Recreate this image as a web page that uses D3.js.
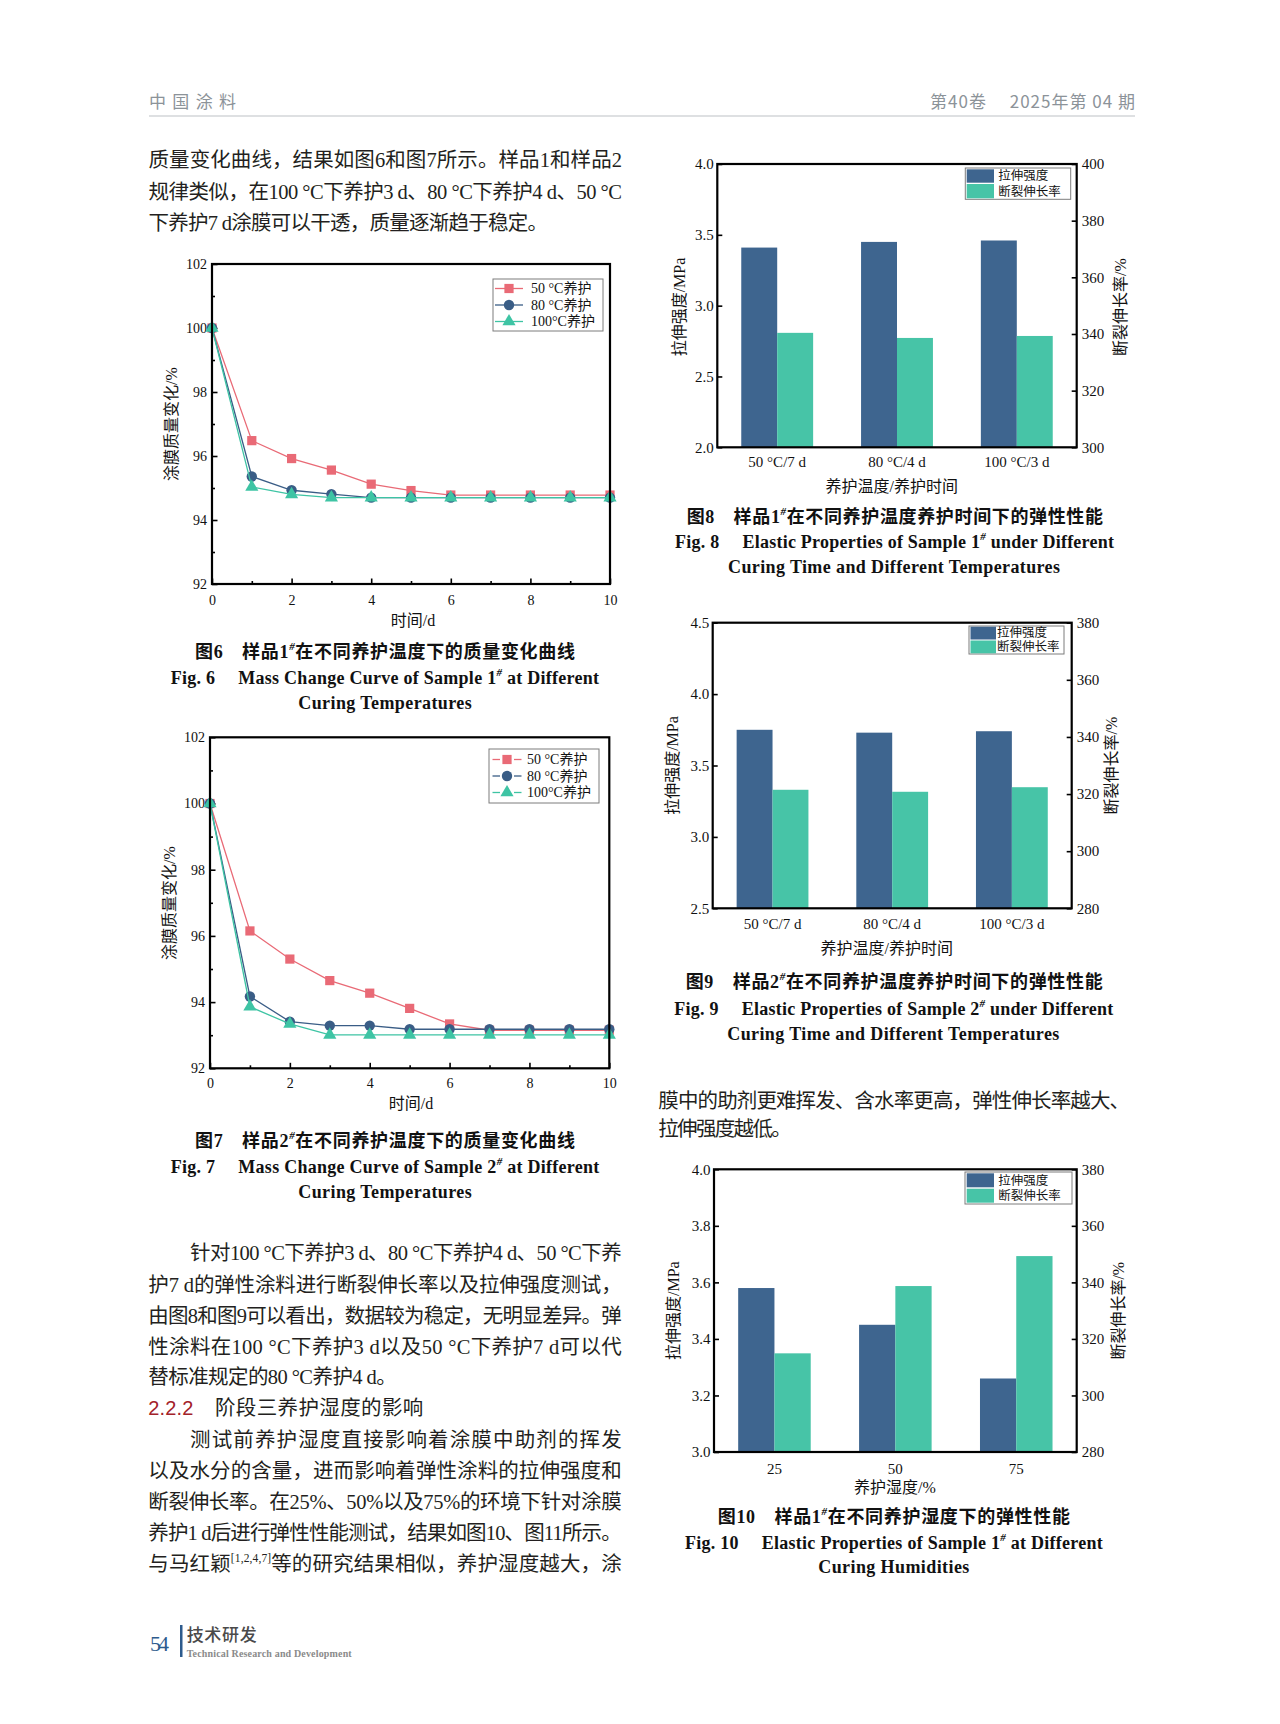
<!DOCTYPE html>
<html><head><meta charset="utf-8">
<script src="https://cdn.jsdelivr.net/npm/d3@7"></script>
<style>body{margin:0;background:#fff}svg{display:block}</style>
</head><body>
<script>
// ---------------- data ----------------
const days = [0,1,2,3,4,5,6,7,8,9,10];
const lineSeriesNames = ["50 °C养护","80 °C养护","100°C养护"];
const fig6Mass50  = [100, 96.48, 95.92, 95.56, 95.12, 94.92, 94.78, 94.78, 94.78, 94.78, 94.78];
const fig6Mass80  = [100, 95.36, 94.93, 94.81, 94.70, 94.70, 94.70, 94.70, 94.70, 94.70, 94.70];
const fig6Mass100 = [100, 95.03, 94.80, 94.70, 94.70, 94.70, 94.70, 94.70, 94.70, 94.70, 94.70];
const fig7Mass50  = [100, 96.15, 95.30, 94.65, 94.27, 93.81, 93.34, 93.15, 93.15, 93.15, 93.15];
const fig7Mass80  = [100, 94.17, 93.41, 93.29, 93.29, 93.18, 93.18, 93.18, 93.18, 93.18, 93.18];
const fig7Mass100 = [100, 93.86, 93.34, 93.01, 93.01, 93.01, 93.01, 93.01, 93.01, 93.01, 93.01];
const lineXTicks = [0,2,4,6,8,10];
const lineXMinor = [1,3,5,7,9];
const lineYTicks = [92,94,96,98,100,102];
const lineYMinor = [93,95,97,99,101];

const barSeriesNames = ["拉伸强度","断裂伸长率"];
const tempCats = ["50 °C/7 d","80 °C/4 d","100 °C/3 d"];
const fig8Tensile = [3.41, 3.45, 3.46];
const fig8Elong   = [340.4, 338.6, 339.3];
const fig9Tensile = [3.75, 3.73, 3.74];
const fig9Elong   = [321.5, 320.8, 322.4];
const humCats = ["25","50","75"];
const fig10Tensile = [3.58, 3.45, 3.26];
const fig10Elong   = [314.9, 338.7, 349.3];
const fig8LeftTicks  = [2.0,2.5,3.0,3.5,4.0];
const fig8RightTicks = [300,320,340,360,380,400];
const fig9LeftTicks  = [2.5,3.0,3.5,4.0,4.5];
const fig9RightTicks = [280,300,320,340,360,380];
const fig10LeftTicks  = [3.0,3.2,3.4,3.6,3.8,4.0];
const fig10RightTicks = [280,300,320,340,360,380];

// ---------------- styles ----------------
const SERIF = "'Liberation Serif','Noto Sans CJK SC',serif";
const SANS = "'Noto Sans CJK SC','Liberation Sans',sans-serif";
const INK = "#231f20";
const C_RED = "#e96a76", C_NAVY = "#3a5d86", C_TEAL = "#3ec4a4";
const B_BLUE = "#3e658f", B_GREEN = "#47c4a7";

const svg = d3.select("body").append("svg").attr("width",1280).attr("height",1724);
svg.append("rect").attr("width",1280).attr("height",1724).attr("fill","#fff");

function addText(p, x, y, segs, o = {}) {
  const size = o.size || 16;
  const g = p.append("g").attr("transform", `translate(${x},${y})` + (o.rotate ? ` rotate(${o.rotate})` : ""));
  const t = g.append("text").attr("x",0).attr("y", size*0.35)
    .attr("font-family", o.family || SERIF).attr("font-size", size)
    .attr("font-weight", o.weight || "normal").attr("fill", o.fill || INK)
    .attr("text-anchor", o.anchor || "start");
  if (o.spacing) t.attr("letter-spacing", o.spacing);
  if (o.len) t.attr("textLength", o.len).attr("lengthAdjust","spacing");
  if (typeof segs === "string") segs = [segs];
  let up = 0;
  segs.forEach(s => {
    if (typeof s === "string") {
      const ts = t.append("tspan").text(s);
      if (up) { ts.attr("dy", up); up = 0; }
    } else {
      const ss = s.size || size*0.6;
      const sh = size*0.42;
      t.append("tspan").text(s.sup).attr("font-size", ss).attr("dy", -sh).attr("font-style", s.italic ? "italic" : null);
      up = sh;
    }
  });
  return t;
}

function styleAxis(a, fs) {
  a.select(".domain").remove();
  a.selectAll("line").attr("stroke","#000").attr("stroke-width",1.6);
  a.selectAll("text").attr("font-family",SERIF).attr("font-size",fs).attr("fill","#111");
  return a;
}

// ---------------- line charts ----------------
function lineChart(o) {
  const g = svg.append("g");
  const x = d3.scaleLinear().domain([0,10]).range([o.l,o.r]);
  const y = d3.scaleLinear().domain([92,102]).range([o.b,o.t]);
  styleAxis(g.append("g").attr("transform",`translate(0,${o.b})`)
    .call(d3.axisBottom(x).tickValues(lineXMinor).tickSize(-3).tickFormat("")), 14);
  styleAxis(g.append("g").attr("transform",`translate(0,${o.b})`)
    .call(d3.axisBottom(x).tickValues(lineXTicks).tickSize(-5.5).tickPadding(o.xpad).tickFormat(d3.format("d"))), 14);
  styleAxis(g.append("g").attr("transform",`translate(${o.l},0)`)
    .call(d3.axisLeft(y).tickValues(lineYMinor).tickSize(-3).tickFormat("")), 14);
  styleAxis(g.append("g").attr("transform",`translate(${o.l},0)`)
    .call(d3.axisLeft(y).tickValues(lineYTicks).tickSize(-5.5).tickPadding(5).tickFormat(d3.format("d"))), 14);

  const line = d3.line().x((d,i)=>x(days[i])).y(d=>y(d));
  o.series.forEach(s => {
    g.append("path").attr("d", line(s.values)).attr("fill","none").attr("stroke", s.color).attr("stroke-width",1.3);
    g.selectAll(null).data(s.values).join("path")
      .attr("transform",(d,i)=>`translate(${x(days[i])},${y(d)})`)
      .attr("d", d3.symbol(s.symbol, s.size)).attr("fill", s.color);
  });
  g.append("rect").attr("x",o.l).attr("y",o.t).attr("width",o.r-o.l).attr("height",o.b-o.t)
    .attr("fill","none").attr("stroke","#000").attr("stroke-width",2.2);

  // legend
  const L = o.legend;
  g.append("rect").attr("x",L.x).attr("y",L.y).attr("width",L.w).attr("height",L.h)
    .attr("fill","#fff").attr("stroke","#7d7d7d").attr("stroke-width",1);
  o.series.forEach((s,i) => {
    const cy = L.rows[i];
    if (L.dashed) {
      g.append("line").attr("x1",L.lx0).attr("x2",L.mx-7).attr("y1",cy).attr("y2",cy).attr("stroke",s.color).attr("stroke-width",1.3);
      g.append("line").attr("x1",L.mx+7).attr("x2",L.lx1).attr("y1",cy).attr("y2",cy).attr("stroke",s.color).attr("stroke-width",1.3);
    } else {
      g.append("line").attr("x1",L.lx0).attr("x2",L.lx1).attr("y1",cy).attr("y2",cy).attr("stroke",s.color).attr("stroke-width",1.3);
    }
    g.append("path").attr("transform",`translate(${L.mx},${cy})`).attr("d", d3.symbol(s.symbol, s.size)).attr("fill", s.color);
    addText(g, L.tx, cy, lineSeriesNames[i], {size:14, fill:"#111"});
  });
  addText(g, o.xt[0], o.xt[1], "时间/d", {size:16, anchor:"middle", fill:"#111"});
  addText(g, o.yt[0], o.yt[1], "涂膜质量变化/%", {size:16, anchor:"middle", rotate:-90, fill:"#111"});
}

const sq = d3.symbolSquare, ci = d3.symbolCircle, tr = d3.symbolTriangle;
lineChart({l:212, r:610, t:264, b:584, xpad:11,
  series:[{values:fig6Mass50,color:C_RED,symbol:sq,size:85},
          {values:fig6Mass80,color:C_NAVY,symbol:ci,size:85},
          {values:fig6Mass100,color:C_TEAL,symbol:tr,size:75}],
  legend:{x:493,y:279,w:110,h:52,rows:[288.5,305,321.5],lx0:495,lx1:523,mx:509,tx:531,dashed:false},
  xt:[413,620], yt:[171.5,424]});
lineChart({l:210, r:609.3, t:737.3, b:1068.3, xpad:9.5,
  series:[{values:fig7Mass50,color:C_RED,symbol:sq,size:85},
          {values:fig7Mass80,color:C_NAVY,symbol:ci,size:85},
          {values:fig7Mass100,color:C_TEAL,symbol:tr,size:75}],
  legend:{x:489,y:749,w:110,h:54,rows:[759.5,776,792.5],lx0:492.5,lx1:521.5,mx:507,tx:527,dashed:true},
  xt:[411,1103.3], yt:[169.3,903]});

// ---------------- bar charts ----------------
function barChart(o) {
  const g = svg.append("g");
  const x = d3.scaleBand().domain(o.cats).range([o.l,o.r]);
  const bw = x.bandwidth()*0.3;
  const yL = d3.scaleLinear().domain(o.ld).range([o.b,o.t]);
  const yR = d3.scaleLinear().domain(o.rd).range([o.b,o.t]);
  g.selectAll(null).data(o.tensile).join("rect")
    .attr("x",(d,i)=>x(o.cats[i])+x.bandwidth()/2-bw).attr("width",bw)
    .attr("y",d=>yL(d)).attr("height",d=>o.b-yL(d)).attr("fill",B_BLUE);
  g.selectAll(null).data(o.elong).join("rect")
    .attr("x",(d,i)=>x(o.cats[i])+x.bandwidth()/2).attr("width",bw)
    .attr("y",d=>yR(d)).attr("height",d=>o.b-yR(d)).attr("fill",B_GREEN);
  styleAxis(g.append("g").attr("transform",`translate(${o.l},0)`)
    .call(d3.axisLeft(yL).tickValues(o.lt).tickSize(-5).tickPadding(3.5).tickFormat(d3.format(".1f"))), 15);
  styleAxis(g.append("g").attr("transform",`translate(${o.r},0)`)
    .call(d3.axisRight(yR).tickValues(o.rt).tickSize(-5).tickPadding(5).tickFormat(d3.format("d"))), 15);
  styleAxis(g.append("g").attr("transform",`translate(0,${o.b})`)
    .call(d3.axisBottom(x).tickSize(0).tickPadding(o.xpad)), 15);
  g.append("rect").attr("x",o.l).attr("y",o.t).attr("width",o.r-o.l).attr("height",o.b-o.t)
    .attr("fill","none").attr("stroke","#000").attr("stroke-width",2.2);
  const L = o.legend;
  g.append("rect").attr("x",L.x).attr("y",L.y).attr("width",L.w).attr("height",L.h)
    .attr("fill","#fff").attr("stroke","#7d7d7d").attr("stroke-width",1);
  [B_BLUE,B_GREEN].forEach((c,i)=>{
    g.append("rect").attr("x",L.sx).attr("y",L.rows[i][0]).attr("width",L.sw).attr("height",L.rows[i][1]-L.rows[i][0]).attr("fill",c);
    addText(g, L.tx, (L.rows[i][0]+L.rows[i][1])/2, barSeriesNames[i], {size:12.5, fill:"#111"});
  });
  addText(g, o.xt[0], o.xt[1], o.xtitle, {size:16, anchor:"middle", fill:"#111"});
  addText(g, o.ylt[0], o.ylt[1], "拉伸强度/MPa", {size:16, anchor:"middle", rotate:-90, fill:"#111"});
  addText(g, o.yrt[0], o.yrt[1], "断裂伸长率/%", {size:16, anchor:"middle", rotate:-90, fill:"#111"});
}

barChart({l:717.3, r:1076.7, t:164, b:447.3, cats:tempCats, tensile:fig8Tensile, elong:fig8Elong,
  ld:[2,4], rd:[300,400], lt:fig8LeftTicks, rt:fig8RightTicks, xpad:9.5,
  legend:{x:965.3,y:168,w:105.4,h:31.3,sx:966.7,sw:27.3,rows:[[169.3,182.7],[184,198.3]],tx:998.3},
  xtitle:"养护温度/养护时间", xt:[891.7,486.7], ylt:[679.3,307], yrt:[1120,307]});
barChart({l:712.7, r:1071.7, t:622.7, b:908.3, cats:tempCats, tensile:fig9Tensile, elong:fig9Elong,
  ld:[2.5,4.5], rd:[280,380], lt:fig9LeftTicks, rt:fig9RightTicks, xpad:10.5,
  legend:{x:969,y:626,w:95,h:28,sx:970.5,sw:25.5,rows:[[626.7,639.5],[640.5,653.3]],tx:997},
  xtitle:"养护温度/养护时间", xt:[886.7,948.3], ylt:[672.7,765.5], yrt:[1111.7,765.5]});
barChart({l:714, r:1076.7, t:1169.3, b:1452, cats:humCats, tensile:fig10Tensile, elong:fig10Elong,
  ld:[3,4], rd:[280,380], lt:fig10LeftTicks, rt:fig10RightTicks, xpad:11,
  legend:{x:965,y:1172,w:107,h:32,sx:966.7,sw:27.3,rows:[[1173.3,1187.3],[1188.7,1202.7]],tx:998.3},
  xtitle:"养护湿度/%", xt:[895,1487.3], ylt:[673.3,1310.7], yrt:[1118.3,1310.7]});

// ---------------- captions ----------------
const CAPS = [
  [195,575,651.7, ["图6\u3000样品1",{sup:"#",size:11,italic:true},"在不同养护温度下的质量变化曲线"]],
  [170.7,599,677.3, ["Fig. 6\u2003 Mass Change Curve of Sample 1",{sup:"#",size:11,italic:true}," at Different"]],
  [298.3,471.7,702.7, ["Curing Temperatures"]],
  [195,575,1140.7, ["图7\u3000样品2",{sup:"#",size:11,italic:true},"在不同养护温度下的质量变化曲线"]],
  [170.7,599.3,1166.7, ["Fig. 7\u2003 Mass Change Curve of Sample 2",{sup:"#",size:11,italic:true}," at Different"]],
  [298.3,471.7,1191.7, ["Curing Temperatures"]],
  [686.7,1103,516.7, ["图8\u3000样品1",{sup:"#",size:11,italic:true},"在不同养护温度养护时间下的弹性性能"]],
  [675,1114,541.7, ["Fig. 8\u2003 Elastic Properties of Sample 1",{sup:"#",size:11,italic:true}," under Different"]],
  [728,1060,566.7, ["Curing Time and Different Temperatures"]],
  [685.7,1102.7,981.7, ["图9\u3000样品2",{sup:"#",size:11,italic:true},"在不同养护温度养护时间下的弹性性能"]],
  [674.3,1113.3,1008.3, ["Fig. 9\u2003 Elastic Properties of Sample 2",{sup:"#",size:11,italic:true}," under Different"]],
  [727.3,1059.3,1033.3, ["Curing Time and Different Temperatures"]],
  [717.7,1070,1516.7, ["图10\u3000样品1",{sup:"#",size:11,italic:true},"在不同养护湿度下的弹性性能"]],
  [685,1102.7,1542.7, ["Fig. 10\u2003 Elastic Properties of Sample 1",{sup:"#",size:11,italic:true}," at Different"]],
  [818.3,969.3,1566.7, ["Curing Humidities"]],
];
CAPS.forEach(c => addText(svg, c[0], c[2], c[3], {size:18, weight:"bold", len:c[1]-c[0], fill:"#111"}));

// ---------------- body text ----------------
const BODY = [
  [148.5,622,160, ["质量变化曲线，结果如图6和图7所示。样品1和样品2"]],
  [148.5,622,191.5, ["规律类似，在100 °C下养护3 d、80 °C下养护4 d、50 °C"]],
  [148.5,548,222.5, ["下养护7 d涂膜可以干透，质量逐渐趋于稳定。"]],
  [190,621.7,1253.3, ["针对100 °C下养护3 d、80 °C下养护4 d、50 °C下养"]],
  [148.3,621.7,1285, ["护7 d的弹性涂料进行断裂伸长率以及拉伸强度测试，"]],
  [148.3,621.7,1315.5, ["由图8和图9可以看出，数据较为稳定，无明显差异。弹"]],
  [148.3,621.7,1346.5, ["性涂料在100 °C下养护3 d以及50 °C下养护7 d可以代"]],
  [148.3,396.7,1377, ["替标准规定的80 °C养护4 d。"]],
  [215,423.3,1408.3, ["阶段三养护湿度的影响"]],
  [190,621.7,1440, ["测试前养护湿度直接影响着涂膜中助剂的挥发"]],
  [148.3,621.7,1470.5, ["以及水分的含量，进而影响着弹性涂料的拉伸强度和"]],
  [148.3,621.7,1501.7, ["断裂伸长率。在25%、50%以及75%的环境下针对涂膜"]],
  [148.3,621.7,1533, ["养护1 d后进行弹性性能测试，结果如图10、图11所示。"]],
  [148.3,621.7,1563.5, ["与马红颖",{sup:"[1,2,4,7]",size:11.5},"等的研究结果相似，养护湿度越大，涂"]],
  [658.3,1130,1100.7, ["膜中的助剂更难挥发、含水率更高，弹性伸长率越大、"]],
  [658.3,791.7,1129.3, ["拉伸强度越低。"]],
];
BODY.forEach(b => addText(svg, b[0], b[2], b[3], {size:20.5, len:b[1]-b[0]}));
addText(svg, 148.3, 1408.3, "2.2.2", {size:20, family:"'Liberation Sans',sans-serif", fill:"#a3222a", len:45});

// ---------------- header & footer ----------------
addText(svg, 149, 102, "中国涂料", {size:17, family:SANS, fill:"#8c9399", len:87});
addText(svg, 930, 102, "第40卷\u2003 2025年第 04 期", {size:17, family:SANS, fill:"#8c9399", len:205});
svg.append("line").attr("x1",149).attr("x2",1135).attr("y1",116).attr("y2",116).attr("stroke","#d3d6d9").attr("stroke-width",1.5);

addText(svg, 150, 1643, "54", {size:22, fill:"#2d5b8d", len:19});
svg.append("rect").attr("x",180).attr("y",1625).attr("width",2.5).attr("height",32).attr("fill","#2d5b8d");
addText(svg, 186.7, 1635, "技术研发", {size:17, family:SANS, weight:"500", fill:"#4a4a4a", len:70});
addText(svg, 186.7, 1653.5, "Technical Research and Development", {size:10, weight:"bold", fill:"#8a8a8a", len:165});
</script>
</body></html>
